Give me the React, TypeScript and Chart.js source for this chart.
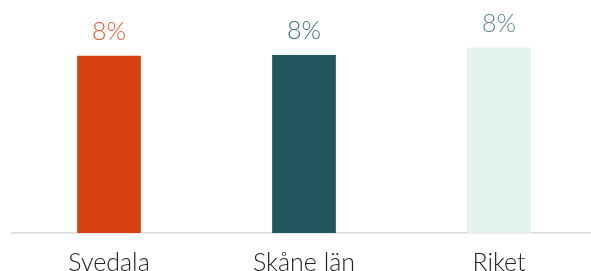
import React, { useEffect, useRef } from "react";
import { Chart, registerables } from "chart.js";

Chart.register(...registerables);

const categories = ["Svedala", "Skåne län", "Riket"];
const values = [7.64, 7.67, 8.0];
const valueLabels = ["8%", "8%", "8%"];
const barColors = ["#d9400f", "#20555e", "#e3f3f0"];
const labelColors = ["#e65a2c", "#3e6f76", "#5b8b8b"];

const FONT = "Lato, 'Open Sans', sans-serif";

const valueLabelPlugin = {
  id: "valueLabels",
  afterDatasetsDraw(chart: any) {
    const ctx = chart.ctx;
    const meta = chart.getDatasetMeta(0);
    ctx.save();
    ctx.font = `300 25px ${FONT}`;
    ctx.textAlign = "center";
    ctx.textBaseline = "alphabetic";
    meta.data.forEach((bar: any, i: number) => {
      ctx.fillStyle = labelColors[i];
      ctx.fillText(valueLabels[i], bar.x, bar.y - 16);
    });
    ctx.restore();
  },
};

export default function App() {
  const ref = useRef<HTMLCanvasElement>(null);
  useEffect(() => {
    if (!ref.current) return;
    const chart = new Chart(ref.current, {
      type: "bar",
      data: {
        labels: categories,
        datasets: [
          {
            data: values,
            backgroundColor: barColors,
            borderWidth: 0,
            barThickness: 63,
          },
        ],
      },
      options: {
        animation: false,
        responsive: true,
        maintainAspectRatio: false,
        layout: { padding: { left: 11.5, right: 3.5, top: 1.4, bottom: 0 } },
        plugins: { legend: { display: false }, tooltip: { enabled: false } },
        scales: {
          x: {
            grid: { display: false, drawTicks: false },
            border: { display: true, color: "#d9d9d9", width: 1.5 },
            ticks: {
              color: "#222222",
              font: { family: FONT, size: 25, weight: "300" as any },
              padding: 15,
            },
          },
          y: {
            display: false,
            min: 0,
            max: 10,
          },
        },
      },
      plugins: [valueLabelPlugin],
    });
    return () => chart.destroy();
  }, []);
  return (
    <div style={{ position: "absolute", left: 0, top: 0, width: 600, height: 293 }}>
      <canvas ref={ref} />
    </div>
  );
}
